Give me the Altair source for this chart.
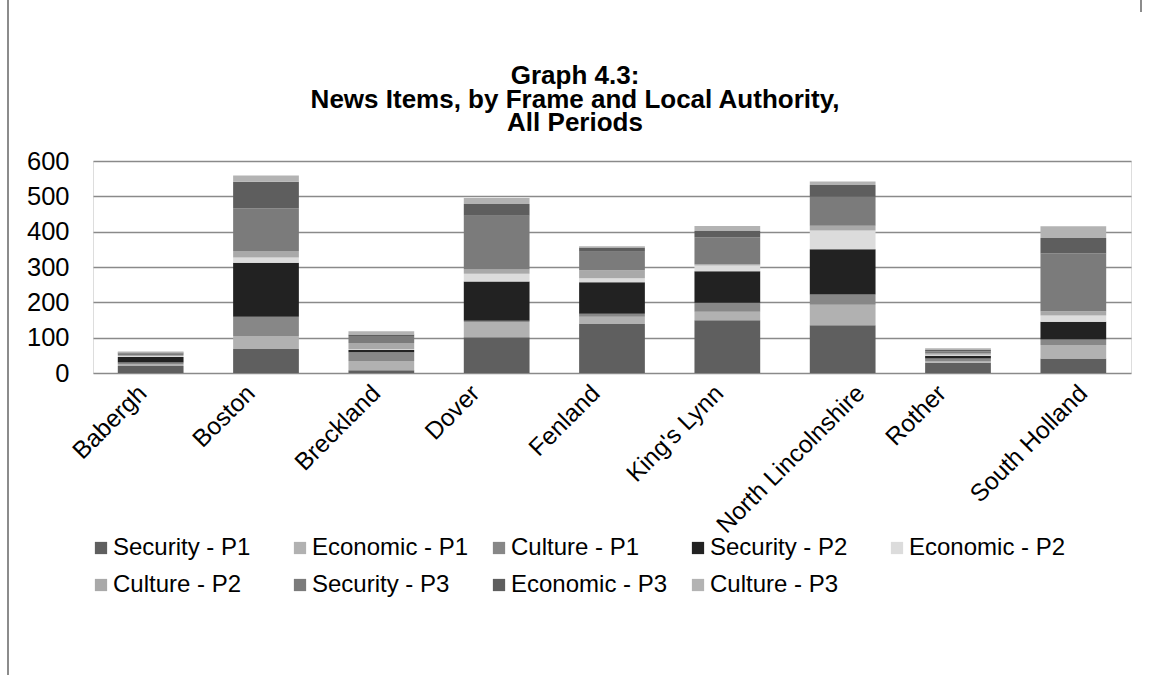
import json

import altair as alt
import pandas as pd

# Local authorities along the x axis
authorities = ["Babergh", "Boston", "Breckland", "Dover", "Fenland",
               "King's Lynn", "North Lincolnshire", "Rother", "South Holland"]

# Horizontal nudge of each rotated category label (pixels along the axis)
label_shift = [-16, -23, -13, -29, -24, -16, 10, -24, 2]

# Frame / period series, in stacking order (bottom to top)
series = ["Security - P1", "Economic - P1", "Culture - P1",
          "Security - P2", "Economic - P2", "Culture - P2",
          "Security - P3", "Economic - P3", "Culture - P3"]

security_p1 = [20, 68, 8, 101, 139, 149, 135, 29, 41]
economic_p1 = [4, 37, 26, 43, 20, 24, 58, 5, 38]
culture_p1 = [6, 54, 25, 4, 9, 26, 29, 7, 16]
security_p2 = [15, 153, 6, 111, 89, 89, 128, 8, 50]
economic_p2 = [3, 15, 2, 22, 11, 16, 53, 3, 18]
culture_p2 = [3, 18, 18, 12, 23, 4, 14, 3, 12]
security_p3 = [4, 121, 20, 152, 52, 76, 82, 6, 163]
economic_p3 = [3, 75, 4, 33, 12, 18, 33, 4, 44]
culture_p3 = [3, 18, 9, 17, 4, 14, 10, 5, 33]

series_values = [security_p1, economic_p1, culture_p1,
                 security_p2, economic_p2, culture_p2,
                 security_p3, economic_p3, culture_p3]

grays = ["#5f5f5f", "#b1b1b1", "#878787",
         "#222222", "#dcdcdc", "#a9a9a9",
         "#7b7b7b", "#5e5e5e", "#b3b3b3"]

rows = []
for idx, (name, vals) in enumerate(zip(series, series_values)):
    for auth, v in zip(authorities, vals):
        rows.append({"authority": auth, "series": name, "value": v, "order": idx})
df = pd.DataFrame(rows)

FONT = "Liberation Sans"

shift_expr = "{}[indexof({}, datum.value)]".format(
    json.dumps(label_shift), json.dumps(authorities))

bars = alt.Chart(df).mark_bar(stroke=None).encode(
    x=alt.X("authority:N", sort=authorities, title=None,
            scale=alt.Scale(paddingInner=0.43, paddingOuter=0.215),
            axis=alt.Axis(labelAngle=-45, labelFontSize=24.5, labelFont=FONT,
                          labelColor="#000000", ticks=False, domain=False,
                          labelPadding=8, labelLimit=0,
                          labelOffset=alt.ExprRef(shift_expr))),
    y=alt.Y("value:Q", stack="zero", title=None,
            scale=alt.Scale(domain=[0, 600], nice=False),
            axis=alt.Axis(values=[0, 100, 200, 300, 400, 500, 600],
                          labelFontSize=25.5, labelFont=FONT, labelColor="#000000",
                          ticks=False, domain=False, labelPadding=24,
                          gridColor="#8a8a8a", gridWidth=1.5)),
    color=alt.Color("series:N", sort=series,
                    scale=alt.Scale(domain=series, range=grays),
                    legend=alt.Legend(orient="none", legendX=-4, legendY=375,
                                      direction="horizontal", columns=5,
                                      gridAlign="all",
                                      title=None, symbolType="square",
                                      symbolSize=150, symbolStrokeWidth=0,
                                      labelFontSize=24, labelFont=FONT,
                                      labelColor="#000000", columnPadding=18,
                                      rowPadding=13, labelOffset=0)),
    order=alt.Order("order:Q", sort="ascending"),
)

# Outer frame lines of the chart area
frame_left = alt.Chart(df).mark_rule(color="#8c8c8c", strokeWidth=1.5).encode(
    x=alt.value(-85), y=alt.value(-161), y2=alt.value(514)
)
frame_right = alt.Chart(df).mark_rule(color="#8c8c8c", strokeWidth=1.5).encode(
    x=alt.value(1048), y=alt.value(-161), y2=alt.value(-149)
)

chart = alt.layer(frame_left, frame_right, bars).properties(
    width=1038, height=212,
    title=alt.TitleParams(
        text=["Graph 4.3:", "News Items, by Frame and Local Authority,", "All Periods"],
        font=FONT, fontSize=26, fontWeight="bold", lineHeight=23.5,
        anchor="middle", dx=-37, offset=0, dy=137, color="#000000"),
    autosize=alt.AutoSizeParams(type="none"),
    padding={"left": 93, "top": 161, "right": 18, "bottom": 302},
).configure_view(stroke=None).configure(background="#ffffff")

chart.save("out.html", embed_options={"renderer": "svg", "actions": False})
